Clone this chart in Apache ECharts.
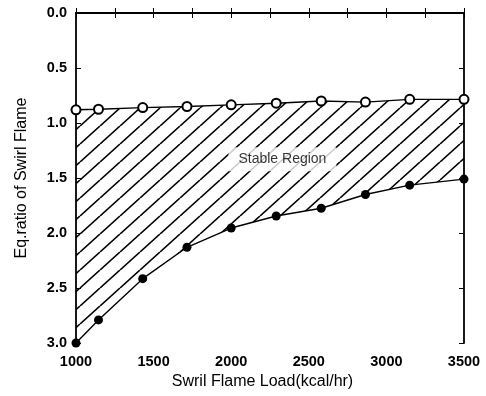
<!DOCTYPE html>
<html>
<head>
<meta charset="utf-8">
<script src="https://cdn.jsdelivr.net/npm/echarts@6/dist/echarts.min.js"></script>
<style>
html,body{margin:0;padding:0;background:#fff;}
#c{width:486px;height:396px;}
</style>
</head>
<body>
<div id="c"></div>
<script>
// Data
const loads = [1000, 1145, 1430, 1715, 2000, 2290, 2580, 2865, 3150, 3500];
const upperEq = [0.88, 0.875, 0.86, 0.85, 0.835, 0.82, 0.80, 0.81, 0.785, 0.785];
const lowerEq = [3.0, 2.79, 2.415, 2.13, 1.955, 1.845, 1.775, 1.65, 1.565, 1.51];
const regionLabel = 'Stable Region';
const regionLabelPos = [2330, 1.33];
const xTitle = 'Swril Flame Load(kcal/hr)';
const yTitle = 'Eq.ratio of Swirl Flame';

function makeHatch() {
  const w = 20, h = 18;
  const c = document.createElement('canvas');
  c.width = w; c.height = h;
  const g = c.getContext('2d');
  g.strokeStyle = '#000';
  g.lineWidth = 1.6;
  for (const k of [-1, 0, 1]) {
    g.beginPath();
    g.moveTo(k * w, h);
    g.lineTo(k * w + w, 0);
    g.stroke();
  }
  return c;
}
const hatch = makeHatch();

const FONT = 'Liberation Sans, Arial, sans-serif';
const chart = echarts.init(document.getElementById('c'), null, {renderer: 'canvas'});

const xCommon = {
  type: 'value', min: 1000, max: 3500, interval: 500,
  splitLine: {show: false},
  axisLine: {show: true, lineStyle: {color: '#000', width: 1.8}},
  axisTick: {show: true, inside: true, length: 5, lineStyle: {color: '#000', width: 1}},
  minorTick: {show: true, splitNumber: 2, length: 5, lineStyle: {color: '#000', width: 1}},
  minorSplitLine: {show: false}
};
const yCommon = {
  type: 'value', min: 0, max: 3, interval: 0.5, inverse: true,
  splitLine: {show: false},
  axisLine: {show: true, lineStyle: {color: '#000', width: 1.8}},
  axisTick: {show: true, inside: true, length: 5, lineStyle: {color: '#000', width: 1}}
};

chart.setOption({
  animation: false,
  backgroundColor: '#fff',
  grid: {left: 76, right: 22, top: 13, bottom: 53},
  xAxis: [
    Object.assign({}, xCommon, {
      position: 'bottom',
      name: xTitle, nameLocation: 'middle', nameGap: 26,
      nameTextStyle: {fontFamily: FONT, fontSize: 16, color: '#000', padding: [0, 15, 0, 0]},
      axisLabel: {show: true, margin: 11, fontFamily: FONT, fontSize: 14.5, fontWeight: 'bold', color: '#000',
        formatter: v => String(v)}
    }),
    Object.assign({}, xCommon, {position: 'top', axisLabel: {show: false}})
  ],
  yAxis: [
    Object.assign({}, yCommon, {
      position: 'left',
      name: yTitle, nameLocation: 'middle', nameGap: 46,
      nameTextStyle: {fontFamily: FONT, fontSize: 16, color: '#000'},
      axisLabel: {show: true, margin: 9, fontFamily: FONT, fontSize: 14.5, fontWeight: 'bold', color: '#000',
        formatter: v => v.toFixed(1)}
    }),
    Object.assign({}, yCommon, {position: 'right', axisLabel: {show: false}})
  ],
  series: [
    {
      type: 'custom', silent: true, clip: true,
      data: [[loads[0], upperEq[0]]],
      renderItem: function (params, api) {
        const top = loads.map((x, i) => api.coord([x, upperEq[i]]));
        const bottom = loads.map((x, i) => api.coord([x, lowerEq[i]])).reverse();
        return {
          type: 'polygon',
          shape: {points: top.concat(bottom)},
          style: {fill: {image: hatch, repeat: 'repeat'}, stroke: null}
        };
      },
      z: 1
    },
    {
      type: 'scatter', silent: true, symbolSize: 0,
      data: [regionLabelPos],
      label: {show: true, position: 'inside', formatter: regionLabel,
        fontFamily: FONT, fontSize: 14, color: '#000',
        backgroundColor: '#fff', padding: [5, 10]},
      z: 3
    },
    {
      type: 'line', symbol: 'emptyCircle', symbolSize: 9,
      data: loads.map((x, i) => [x, upperEq[i]]),
      lineStyle: {color: '#000', width: 1.4},
      itemStyle: {color: '#000', borderColor: '#000', borderWidth: 1.3},
      z: 4
    },
    {
      type: 'line', symbol: 'circle', symbolSize: 9,
      data: loads.map((x, i) => [x, lowerEq[i]]),
      lineStyle: {color: '#000', width: 1.4},
      itemStyle: {color: '#000'},
      z: 4
    }
  ]
});
</script>
</body>
</html>
